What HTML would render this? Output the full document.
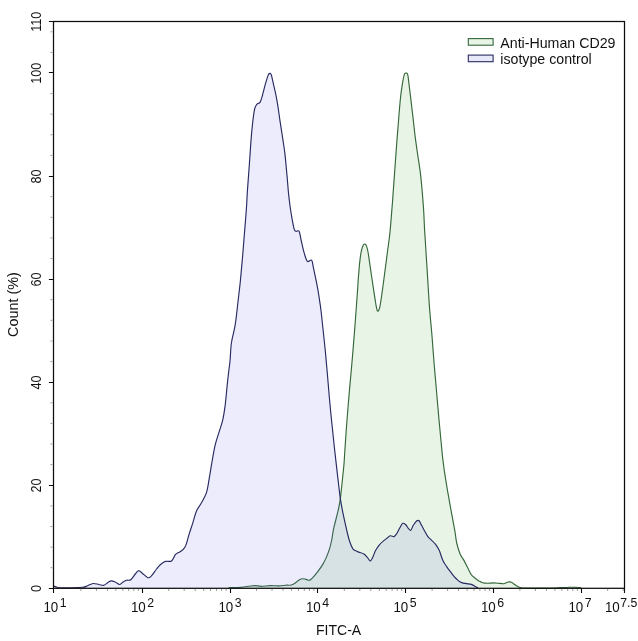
<!DOCTYPE html>
<html lang="en"><head><meta charset="utf-8"><title>FITC-A histogram</title>
<style>html,body{margin:0;padding:0;background:#fff;}body{width:638px;height:641px;overflow:hidden;}svg{display:block;}</style>
</head><body>
<svg width="638" height="641" viewBox="0 0 638 641">
<rect width="638" height="641" fill="#ffffff"/>
<path d="M228.5,587.8C230.3,587.7 236.2,587.6 239.5,587.4C242.8,587.1 245.7,586.6 248.3,586.3C250.9,586.0 252.7,585.6 254.9,585.6C257.1,585.6 258.8,586.3 261.4,586.3C263.9,586.3 267.3,585.7 270.2,585.6C273.1,585.5 276.4,586.0 279.0,585.9C281.6,585.8 283.6,585.4 285.6,585.2C287.6,585.1 289.5,585.4 291.1,585.0C292.8,584.6 294.2,583.6 295.5,582.8C296.8,582.0 297.6,580.9 298.7,580.2C299.8,579.5 300.9,579.0 302.0,578.8C303.1,578.6 304.2,578.9 305.3,579.1C306.4,579.3 307.7,580.1 308.6,580.2C309.5,580.3 309.9,580.2 310.8,579.5C311.7,578.8 312.8,577.7 314.1,576.2C315.4,574.7 317.0,572.7 318.5,570.7C320.0,568.7 321.6,566.3 322.9,564.1C324.2,561.9 325.1,560.2 326.2,557.6C327.3,555.0 328.6,551.7 329.5,548.8C330.4,545.9 331.0,543.5 331.7,540.0C332.4,536.5 332.8,532.3 333.8,527.8C334.8,523.2 336.6,517.3 337.6,512.7C338.7,508.1 339.4,505.2 340.1,500.2C340.9,495.2 341.5,488.5 342.1,482.6C342.7,476.8 343.4,470.5 343.9,465.1C344.4,459.7 344.4,456.9 344.9,450.0C345.4,443.1 345.9,434.2 346.7,424.0C347.5,413.8 348.6,399.9 349.6,388.6C350.6,377.3 351.6,367.1 352.5,356.3C353.4,345.5 354.3,334.2 355.1,324.0C355.9,313.8 356.6,303.7 357.2,295.3C357.8,286.9 358.1,280.4 358.7,273.8C359.2,267.2 359.8,260.6 360.5,255.9C361.2,251.2 362.1,247.7 363.0,245.8C363.9,243.9 364.8,243.6 365.6,244.4C366.4,245.2 366.9,246.8 367.7,250.5C368.5,254.2 369.3,260.6 370.2,266.6C371.1,272.6 372.2,280.4 373.1,286.4C374.0,292.4 374.9,298.4 375.6,302.5C376.3,306.6 376.7,309.9 377.4,310.8C378.1,311.7 378.9,310.5 379.6,307.9C380.3,305.3 380.9,301.0 381.7,295.3C382.5,289.6 383.7,281.0 384.6,273.8C385.6,266.6 386.5,259.3 387.4,252.3C388.3,245.3 389.2,240.2 390.0,232.0C390.8,223.8 391.6,212.8 392.4,203.2C393.1,193.5 393.8,183.8 394.5,174.1C395.2,164.4 395.9,153.8 396.6,144.9C397.3,136.1 397.9,128.5 398.5,121.0C399.1,113.5 399.7,106.0 400.3,99.8C400.9,93.6 401.7,88.1 402.4,83.9C403.1,79.7 403.7,76.4 404.3,74.6C404.9,72.8 405.3,73.2 405.9,73.2C406.5,73.2 407.1,72.4 407.7,74.6C408.3,76.8 408.7,81.9 409.3,86.5C409.9,91.1 410.6,97.1 411.2,102.4C411.8,107.7 412.4,112.7 413.1,118.4C413.8,124.2 414.4,130.7 415.2,136.9C416.0,143.1 416.9,149.3 417.8,155.5C418.7,161.7 419.8,167.9 420.5,174.1C421.2,180.3 421.8,186.4 422.3,192.6C422.8,198.8 423.3,205.0 423.7,211.2C424.1,217.4 424.2,223.8 424.6,230.0C425.0,236.2 425.3,240.8 425.8,248.7C426.3,256.6 427.0,267.8 427.6,277.4C428.2,287.0 428.7,296.5 429.4,306.1C430.1,315.7 431.1,325.2 431.9,334.8C432.7,344.4 433.3,353.9 434.1,363.5C434.9,373.1 435.8,382.6 436.6,392.2C437.4,401.8 438.3,412.1 439.1,420.9C439.9,429.7 440.8,438.5 441.4,445.0C442.0,451.5 442.2,454.6 442.9,460.0C443.6,465.4 444.3,470.9 445.4,477.6C446.4,484.3 447.9,493.1 449.2,500.2C450.4,507.3 451.9,514.8 452.9,520.3C453.9,525.8 454.6,529.3 455.2,533.0C455.8,536.7 455.8,539.0 456.6,542.5C457.4,546.0 458.8,550.9 460.0,553.8C461.2,556.7 462.5,557.8 463.8,560.1C465.1,562.4 466.4,565.2 467.6,567.6C468.9,570.0 470.1,572.8 471.3,574.6C472.6,576.4 473.9,577.2 475.1,578.2C476.4,579.2 477.6,580.1 478.8,580.9C480.1,581.6 481.1,582.3 482.6,582.7C484.1,583.1 485.7,583.2 487.6,583.2C489.5,583.2 491.8,582.9 493.9,582.9C496.0,582.9 498.5,583.3 500.2,583.4C501.9,583.5 502.7,583.9 503.9,583.7C505.1,583.5 506.1,582.5 507.2,582.2C508.2,581.9 509.2,581.7 510.2,581.9C511.2,582.1 512.2,582.8 513.2,583.4C514.2,584.0 515.3,585.0 516.5,585.7C517.7,586.4 518.8,587.1 520.2,587.5C521.7,587.9 520.2,587.9 525.2,588.0C530.2,588.1 544.4,588.1 550.3,588.0C556.1,587.9 557.4,587.7 560.3,587.6C563.2,587.5 565.4,587.3 567.9,587.3C570.4,587.2 573.1,587.2 575.4,587.3C577.6,587.4 580.4,587.6 581.4,587.7L581.4,588.0 L228.5,588.0 Z" fill="#e8f4e6" stroke="none"/>
<path d="M228.5,587.8C230.3,587.7 236.2,587.6 239.5,587.4C242.8,587.1 245.7,586.6 248.3,586.3C250.9,586.0 252.7,585.6 254.9,585.6C257.1,585.6 258.8,586.3 261.4,586.3C263.9,586.3 267.3,585.7 270.2,585.6C273.1,585.5 276.4,586.0 279.0,585.9C281.6,585.8 283.6,585.4 285.6,585.2C287.6,585.1 289.5,585.4 291.1,585.0C292.8,584.6 294.2,583.6 295.5,582.8C296.8,582.0 297.6,580.9 298.7,580.2C299.8,579.5 300.9,579.0 302.0,578.8C303.1,578.6 304.2,578.9 305.3,579.1C306.4,579.3 307.7,580.1 308.6,580.2C309.5,580.3 309.9,580.2 310.8,579.5C311.7,578.8 312.8,577.7 314.1,576.2C315.4,574.7 317.0,572.7 318.5,570.7C320.0,568.7 321.6,566.3 322.9,564.1C324.2,561.9 325.1,560.2 326.2,557.6C327.3,555.0 328.6,551.7 329.5,548.8C330.4,545.9 331.0,543.5 331.7,540.0C332.4,536.5 332.8,532.3 333.8,527.8C334.8,523.2 336.6,517.3 337.6,512.7C338.7,508.1 339.4,505.2 340.1,500.2C340.9,495.2 341.5,488.5 342.1,482.6C342.7,476.8 343.4,470.5 343.9,465.1C344.4,459.7 344.4,456.9 344.9,450.0C345.4,443.1 345.9,434.2 346.7,424.0C347.5,413.8 348.6,399.9 349.6,388.6C350.6,377.3 351.6,367.1 352.5,356.3C353.4,345.5 354.3,334.2 355.1,324.0C355.9,313.8 356.6,303.7 357.2,295.3C357.8,286.9 358.1,280.4 358.7,273.8C359.2,267.2 359.8,260.6 360.5,255.9C361.2,251.2 362.1,247.7 363.0,245.8C363.9,243.9 364.8,243.6 365.6,244.4C366.4,245.2 366.9,246.8 367.7,250.5C368.5,254.2 369.3,260.6 370.2,266.6C371.1,272.6 372.2,280.4 373.1,286.4C374.0,292.4 374.9,298.4 375.6,302.5C376.3,306.6 376.7,309.9 377.4,310.8C378.1,311.7 378.9,310.5 379.6,307.9C380.3,305.3 380.9,301.0 381.7,295.3C382.5,289.6 383.7,281.0 384.6,273.8C385.6,266.6 386.5,259.3 387.4,252.3C388.3,245.3 389.2,240.2 390.0,232.0C390.8,223.8 391.6,212.8 392.4,203.2C393.1,193.5 393.8,183.8 394.5,174.1C395.2,164.4 395.9,153.8 396.6,144.9C397.3,136.1 397.9,128.5 398.5,121.0C399.1,113.5 399.7,106.0 400.3,99.8C400.9,93.6 401.7,88.1 402.4,83.9C403.1,79.7 403.7,76.4 404.3,74.6C404.9,72.8 405.3,73.2 405.9,73.2C406.5,73.2 407.1,72.4 407.7,74.6C408.3,76.8 408.7,81.9 409.3,86.5C409.9,91.1 410.6,97.1 411.2,102.4C411.8,107.7 412.4,112.7 413.1,118.4C413.8,124.2 414.4,130.7 415.2,136.9C416.0,143.1 416.9,149.3 417.8,155.5C418.7,161.7 419.8,167.9 420.5,174.1C421.2,180.3 421.8,186.4 422.3,192.6C422.8,198.8 423.3,205.0 423.7,211.2C424.1,217.4 424.2,223.8 424.6,230.0C425.0,236.2 425.3,240.8 425.8,248.7C426.3,256.6 427.0,267.8 427.6,277.4C428.2,287.0 428.7,296.5 429.4,306.1C430.1,315.7 431.1,325.2 431.9,334.8C432.7,344.4 433.3,353.9 434.1,363.5C434.9,373.1 435.8,382.6 436.6,392.2C437.4,401.8 438.3,412.1 439.1,420.9C439.9,429.7 440.8,438.5 441.4,445.0C442.0,451.5 442.2,454.6 442.9,460.0C443.6,465.4 444.3,470.9 445.4,477.6C446.4,484.3 447.9,493.1 449.2,500.2C450.4,507.3 451.9,514.8 452.9,520.3C453.9,525.8 454.6,529.3 455.2,533.0C455.8,536.7 455.8,539.0 456.6,542.5C457.4,546.0 458.8,550.9 460.0,553.8C461.2,556.7 462.5,557.8 463.8,560.1C465.1,562.4 466.4,565.2 467.6,567.6C468.9,570.0 470.1,572.8 471.3,574.6C472.6,576.4 473.9,577.2 475.1,578.2C476.4,579.2 477.6,580.1 478.8,580.9C480.1,581.6 481.1,582.3 482.6,582.7C484.1,583.1 485.7,583.2 487.6,583.2C489.5,583.2 491.8,582.9 493.9,582.9C496.0,582.9 498.5,583.3 500.2,583.4C501.9,583.5 502.7,583.9 503.9,583.7C505.1,583.5 506.1,582.5 507.2,582.2C508.2,581.9 509.2,581.7 510.2,581.9C511.2,582.1 512.2,582.8 513.2,583.4C514.2,584.0 515.3,585.0 516.5,585.7C517.7,586.4 518.8,587.1 520.2,587.5C521.7,587.9 520.2,587.9 525.2,588.0C530.2,588.1 544.4,588.1 550.3,588.0C556.1,587.9 557.4,587.7 560.3,587.6C563.2,587.5 565.4,587.3 567.9,587.3C570.4,587.2 573.1,587.2 575.4,587.3C577.6,587.4 580.4,587.6 581.4,587.7" fill="none" stroke="#34683a" stroke-width="1.15" stroke-linejoin="round"/>
<path d="M53.6,586.0C54.2,586.2 55.9,587.0 57.0,587.3C58.1,587.6 57.8,587.7 60.0,587.8C62.2,587.9 66.2,587.9 70.0,587.8C73.8,587.7 79.7,587.6 82.6,587.3C85.5,587.0 85.8,586.4 87.6,585.8C89.3,585.2 91.2,583.7 93.1,583.5C95.0,583.3 97.1,584.2 98.9,584.5C100.7,584.8 102.4,585.7 103.9,585.3C105.5,584.9 107.0,583.0 108.2,582.3C109.5,581.5 110.2,580.8 111.4,580.8C112.7,580.8 114.4,581.7 115.7,582.3C117.0,582.9 118.3,584.5 119.5,584.5C120.7,584.5 121.5,583.0 122.7,582.3C123.9,581.6 125.2,580.7 126.5,580.3C127.8,579.9 129.3,580.8 130.8,579.7C132.3,578.7 134.0,575.5 135.3,574.0C136.6,572.5 137.3,570.8 138.5,570.7C139.7,570.6 140.8,572.0 142.3,573.2C143.9,574.4 146.2,577.3 147.8,577.7C149.4,578.1 150.1,577.2 151.6,575.7C153.1,574.2 155.1,570.8 156.6,569.0C158.1,567.2 158.8,566.0 160.3,564.7C161.8,563.4 163.5,562.0 165.4,561.4C167.3,560.8 169.9,562.0 171.6,560.9C173.3,559.8 174.1,556.2 175.4,554.7C176.7,553.2 177.9,553.0 179.2,552.2C180.4,551.4 181.8,550.9 182.9,549.7C184.0,548.5 184.9,547.7 185.9,545.1C186.9,542.5 188.0,537.6 189.2,533.9C190.4,530.1 191.7,526.4 192.9,522.6C194.1,518.8 195.1,514.3 196.5,511.0C197.9,507.7 199.7,506.0 201.3,503.0C203.0,500.0 205.1,496.7 206.4,492.9C207.7,489.1 208.1,485.0 208.9,480.4C209.7,475.8 210.4,471.1 211.4,465.3C212.4,459.5 213.8,450.7 215.1,445.3C216.3,439.9 217.6,436.9 218.9,432.7C220.2,428.5 221.6,424.8 222.7,420.2C223.8,415.6 224.4,411.0 225.2,405.1C225.9,399.2 226.6,391.0 227.2,385.1C227.8,379.2 228.4,374.2 228.9,370.0C229.4,365.8 229.7,364.5 230.1,360.0C230.5,355.5 230.6,348.8 231.4,343.0C232.2,337.2 234.1,331.7 235.1,325.4C236.1,319.1 236.8,312.4 237.6,305.3C238.4,298.2 239.3,291.2 240.2,282.8C241.0,274.4 241.9,264.0 242.7,255.2C243.4,246.4 244.1,237.6 244.7,230.1C245.3,222.6 245.9,216.5 246.3,210.0C246.8,203.5 246.9,198.4 247.4,191.0C247.9,183.6 248.7,173.5 249.3,165.3C249.9,157.1 250.4,148.9 250.9,141.9C251.4,134.9 252.0,128.7 252.6,123.2C253.2,117.7 253.9,112.3 254.6,109.1C255.3,105.9 256.1,105.3 257.0,104.2C257.9,103.1 259.1,103.6 260.0,102.3C260.9,101.0 261.5,98.7 262.2,96.3C262.9,93.9 263.6,90.8 264.3,88.1C265.0,85.4 265.9,82.2 266.6,79.9C267.3,77.6 267.9,75.6 268.5,74.5C269.1,73.4 269.6,73.3 270.1,73.4C270.6,73.5 270.9,73.5 271.4,75.2C271.9,76.9 272.6,80.3 273.3,83.4C274.0,86.5 274.9,90.0 275.7,93.9C276.5,97.8 277.3,102.3 278.0,106.8C278.7,111.3 279.2,115.7 280.0,120.8C280.8,125.9 281.7,131.7 282.5,137.2C283.3,142.7 284.2,147.8 284.9,153.6C285.6,159.4 286.1,166.1 286.7,172.3C287.3,178.5 287.9,186.2 288.3,191.0C288.8,195.8 288.9,197.0 289.4,201.0C289.9,205.0 290.6,210.4 291.4,215.0C292.2,219.6 293.3,226.1 294.1,228.8C294.9,231.5 295.3,230.9 296.1,231.3C296.9,231.7 298.3,229.8 299.1,231.3C299.9,232.8 300.3,236.5 301.1,240.1C301.9,243.7 303.1,249.1 304.1,252.7C305.2,256.2 306.1,260.1 307.4,261.4C308.6,262.6 310.6,259.1 311.6,260.2C312.6,261.2 312.6,263.9 313.4,267.7C314.2,271.5 315.7,278.4 316.6,282.8C317.5,287.2 317.9,289.4 318.6,294.0C319.3,298.6 320.3,304.7 321.0,310.5C321.7,316.3 322.3,322.2 323.0,329.0C323.7,335.8 324.6,343.7 325.3,351.0C326.0,358.3 326.6,365.3 327.3,373.0C328.0,380.7 328.6,389.5 329.3,397.0C330.0,404.5 330.6,411.0 331.3,418.0C332.0,425.0 332.8,432.0 333.5,439.0C334.2,446.0 335.0,453.2 335.8,460.1C336.6,467.0 337.3,473.4 338.1,480.1C338.9,486.8 339.6,493.9 340.6,500.2C341.6,506.5 342.7,512.1 343.9,517.7C345.1,523.3 346.6,529.8 347.6,534.0C348.6,538.2 349.2,540.3 350.1,542.8C351.0,545.3 351.9,547.6 353.1,549.1C354.4,550.6 355.8,550.8 357.6,551.6C359.4,552.4 362.2,553.1 363.9,554.1C365.6,555.1 366.6,556.8 367.7,557.9C368.8,559.0 369.4,561.0 370.2,560.9C371.0,560.8 371.8,559.2 372.7,557.4C373.6,555.6 374.6,552.3 375.7,550.3C376.8,548.3 377.8,546.8 379.0,545.3C380.2,543.8 381.4,542.7 382.7,541.6C383.9,540.5 385.2,539.6 386.5,538.6C387.8,537.6 389.1,536.1 390.3,535.8C391.6,535.5 393.0,536.9 394.0,536.6C395.0,536.3 395.5,535.5 396.5,534.0C397.5,532.5 398.8,529.6 399.8,527.8C400.9,526.0 401.8,523.8 402.8,523.3C403.8,522.8 404.9,524.0 405.8,524.8C406.7,525.6 407.5,527.4 408.3,528.3C409.1,529.2 410.0,530.8 410.8,530.3C411.6,529.8 412.3,526.8 413.3,525.3C414.3,523.8 415.6,521.8 416.6,521.0C417.6,520.2 418.3,520.1 419.1,520.8C419.9,521.5 420.6,523.5 421.6,525.3C422.6,527.1 423.8,529.6 424.9,531.5C425.9,533.4 426.8,535.1 427.9,536.6C429.0,538.1 430.4,539.0 431.6,540.3C432.9,541.5 434.1,542.4 435.4,544.1C436.7,545.8 437.9,547.6 439.2,550.3C440.4,553.0 441.6,557.7 442.9,560.4C444.1,563.1 445.4,564.7 446.7,566.6C447.9,568.5 449.1,570.0 450.4,571.7C451.6,573.4 452.9,575.2 454.2,576.7C455.5,578.2 456.8,579.4 458.0,580.4C459.2,581.4 460.3,582.1 461.7,582.6C463.1,583.1 464.7,583.3 466.3,583.6C467.9,583.9 469.8,583.9 471.3,584.4C472.8,584.9 474.0,585.8 475.1,586.4C476.2,587.0 477.6,587.7 478.1,588.0L478.1,588.0 L53.6,588.0 Z" fill="#5a5ae1" fill-opacity="0.115" stroke="none"/>
<path d="M53.6,586.0C54.2,586.2 55.9,587.0 57.0,587.3C58.1,587.6 57.8,587.7 60.0,587.8C62.2,587.9 66.2,587.9 70.0,587.8C73.8,587.7 79.7,587.6 82.6,587.3C85.5,587.0 85.8,586.4 87.6,585.8C89.3,585.2 91.2,583.7 93.1,583.5C95.0,583.3 97.1,584.2 98.9,584.5C100.7,584.8 102.4,585.7 103.9,585.3C105.5,584.9 107.0,583.0 108.2,582.3C109.5,581.5 110.2,580.8 111.4,580.8C112.7,580.8 114.4,581.7 115.7,582.3C117.0,582.9 118.3,584.5 119.5,584.5C120.7,584.5 121.5,583.0 122.7,582.3C123.9,581.6 125.2,580.7 126.5,580.3C127.8,579.9 129.3,580.8 130.8,579.7C132.3,578.7 134.0,575.5 135.3,574.0C136.6,572.5 137.3,570.8 138.5,570.7C139.7,570.6 140.8,572.0 142.3,573.2C143.9,574.4 146.2,577.3 147.8,577.7C149.4,578.1 150.1,577.2 151.6,575.7C153.1,574.2 155.1,570.8 156.6,569.0C158.1,567.2 158.8,566.0 160.3,564.7C161.8,563.4 163.5,562.0 165.4,561.4C167.3,560.8 169.9,562.0 171.6,560.9C173.3,559.8 174.1,556.2 175.4,554.7C176.7,553.2 177.9,553.0 179.2,552.2C180.4,551.4 181.8,550.9 182.9,549.7C184.0,548.5 184.9,547.7 185.9,545.1C186.9,542.5 188.0,537.6 189.2,533.9C190.4,530.1 191.7,526.4 192.9,522.6C194.1,518.8 195.1,514.3 196.5,511.0C197.9,507.7 199.7,506.0 201.3,503.0C203.0,500.0 205.1,496.7 206.4,492.9C207.7,489.1 208.1,485.0 208.9,480.4C209.7,475.8 210.4,471.1 211.4,465.3C212.4,459.5 213.8,450.7 215.1,445.3C216.3,439.9 217.6,436.9 218.9,432.7C220.2,428.5 221.6,424.8 222.7,420.2C223.8,415.6 224.4,411.0 225.2,405.1C225.9,399.2 226.6,391.0 227.2,385.1C227.8,379.2 228.4,374.2 228.9,370.0C229.4,365.8 229.7,364.5 230.1,360.0C230.5,355.5 230.6,348.8 231.4,343.0C232.2,337.2 234.1,331.7 235.1,325.4C236.1,319.1 236.8,312.4 237.6,305.3C238.4,298.2 239.3,291.2 240.2,282.8C241.0,274.4 241.9,264.0 242.7,255.2C243.4,246.4 244.1,237.6 244.7,230.1C245.3,222.6 245.9,216.5 246.3,210.0C246.8,203.5 246.9,198.4 247.4,191.0C247.9,183.6 248.7,173.5 249.3,165.3C249.9,157.1 250.4,148.9 250.9,141.9C251.4,134.9 252.0,128.7 252.6,123.2C253.2,117.7 253.9,112.3 254.6,109.1C255.3,105.9 256.1,105.3 257.0,104.2C257.9,103.1 259.1,103.6 260.0,102.3C260.9,101.0 261.5,98.7 262.2,96.3C262.9,93.9 263.6,90.8 264.3,88.1C265.0,85.4 265.9,82.2 266.6,79.9C267.3,77.6 267.9,75.6 268.5,74.5C269.1,73.4 269.6,73.3 270.1,73.4C270.6,73.5 270.9,73.5 271.4,75.2C271.9,76.9 272.6,80.3 273.3,83.4C274.0,86.5 274.9,90.0 275.7,93.9C276.5,97.8 277.3,102.3 278.0,106.8C278.7,111.3 279.2,115.7 280.0,120.8C280.8,125.9 281.7,131.7 282.5,137.2C283.3,142.7 284.2,147.8 284.9,153.6C285.6,159.4 286.1,166.1 286.7,172.3C287.3,178.5 287.9,186.2 288.3,191.0C288.8,195.8 288.9,197.0 289.4,201.0C289.9,205.0 290.6,210.4 291.4,215.0C292.2,219.6 293.3,226.1 294.1,228.8C294.9,231.5 295.3,230.9 296.1,231.3C296.9,231.7 298.3,229.8 299.1,231.3C299.9,232.8 300.3,236.5 301.1,240.1C301.9,243.7 303.1,249.1 304.1,252.7C305.2,256.2 306.1,260.1 307.4,261.4C308.6,262.6 310.6,259.1 311.6,260.2C312.6,261.2 312.6,263.9 313.4,267.7C314.2,271.5 315.7,278.4 316.6,282.8C317.5,287.2 317.9,289.4 318.6,294.0C319.3,298.6 320.3,304.7 321.0,310.5C321.7,316.3 322.3,322.2 323.0,329.0C323.7,335.8 324.6,343.7 325.3,351.0C326.0,358.3 326.6,365.3 327.3,373.0C328.0,380.7 328.6,389.5 329.3,397.0C330.0,404.5 330.6,411.0 331.3,418.0C332.0,425.0 332.8,432.0 333.5,439.0C334.2,446.0 335.0,453.2 335.8,460.1C336.6,467.0 337.3,473.4 338.1,480.1C338.9,486.8 339.6,493.9 340.6,500.2C341.6,506.5 342.7,512.1 343.9,517.7C345.1,523.3 346.6,529.8 347.6,534.0C348.6,538.2 349.2,540.3 350.1,542.8C351.0,545.3 351.9,547.6 353.1,549.1C354.4,550.6 355.8,550.8 357.6,551.6C359.4,552.4 362.2,553.1 363.9,554.1C365.6,555.1 366.6,556.8 367.7,557.9C368.8,559.0 369.4,561.0 370.2,560.9C371.0,560.8 371.8,559.2 372.7,557.4C373.6,555.6 374.6,552.3 375.7,550.3C376.8,548.3 377.8,546.8 379.0,545.3C380.2,543.8 381.4,542.7 382.7,541.6C383.9,540.5 385.2,539.6 386.5,538.6C387.8,537.6 389.1,536.1 390.3,535.8C391.6,535.5 393.0,536.9 394.0,536.6C395.0,536.3 395.5,535.5 396.5,534.0C397.5,532.5 398.8,529.6 399.8,527.8C400.9,526.0 401.8,523.8 402.8,523.3C403.8,522.8 404.9,524.0 405.8,524.8C406.7,525.6 407.5,527.4 408.3,528.3C409.1,529.2 410.0,530.8 410.8,530.3C411.6,529.8 412.3,526.8 413.3,525.3C414.3,523.8 415.6,521.8 416.6,521.0C417.6,520.2 418.3,520.1 419.1,520.8C419.9,521.5 420.6,523.5 421.6,525.3C422.6,527.1 423.8,529.6 424.9,531.5C425.9,533.4 426.8,535.1 427.9,536.6C429.0,538.1 430.4,539.0 431.6,540.3C432.9,541.5 434.1,542.4 435.4,544.1C436.7,545.8 437.9,547.6 439.2,550.3C440.4,553.0 441.6,557.7 442.9,560.4C444.1,563.1 445.4,564.7 446.7,566.6C447.9,568.5 449.1,570.0 450.4,571.7C451.6,573.4 452.9,575.2 454.2,576.7C455.5,578.2 456.8,579.4 458.0,580.4C459.2,581.4 460.3,582.1 461.7,582.6C463.1,583.1 464.7,583.3 466.3,583.6C467.9,583.9 469.8,583.9 471.3,584.4C472.8,584.9 474.0,585.8 475.1,586.4C476.2,587.0 477.6,587.7 478.1,588.0" fill="none" stroke="#272a60" stroke-width="1.15" stroke-linejoin="round"/>
<rect x="53.5" y="21.5" width="571.0" height="566.8" fill="none" stroke="#0c0c0c" stroke-width="1.25"/>
<path d="M53.5,588.5h-4.6M53.5,485.5h-4.6M53.5,382.5h-4.6M53.5,279.5h-4.6M53.5,176.5h-4.6M53.5,72.5h-4.6M53.5,21.5h-4.6M53.5,588.3v4.8M142.5,588.3v4.8M230.5,588.3v4.8M317.5,588.3v4.8M405.5,588.3v4.8M493.5,588.3v4.8M581.5,588.3v4.8M624.5,588.3v4.8" stroke="#0c0c0c" stroke-width="1.1" fill="none"/>
<path d="M80.9,588.9v2.0M96.4,588.9v2.0M107.4,588.9v2.0M115.9,588.9v2.0M122.8,588.9v2.0M128.7,588.9v2.0M133.8,588.9v2.0M138.3,588.9v2.0M168.7,588.9v2.0M184.2,588.9v2.0M195.2,588.9v2.0M203.7,588.9v2.0M210.6,588.9v2.0M216.5,588.9v2.0M221.6,588.9v2.0M226.1,588.9v2.0M256.5,588.9v2.0M272.0,588.9v2.0M283.0,588.9v2.0M291.5,588.9v2.0M298.4,588.9v2.0M304.3,588.9v2.0M309.4,588.9v2.0M313.9,588.9v2.0M344.3,588.9v2.0M359.8,588.9v2.0M370.8,588.9v2.0M379.3,588.9v2.0M386.2,588.9v2.0M392.1,588.9v2.0M397.2,588.9v2.0M401.7,588.9v2.0M432.1,588.9v2.0M447.6,588.9v2.0M458.6,588.9v2.0M467.1,588.9v2.0M474.0,588.9v2.0M479.9,588.9v2.0M485.0,588.9v2.0M489.5,588.9v2.0M519.9,588.9v2.0M535.4,588.9v2.0M546.4,588.9v2.0M554.9,588.9v2.0M561.8,588.9v2.0M567.7,588.9v2.0M572.8,588.9v2.0M577.3,588.9v2.0M607.7,588.9v2.0M623.2,588.9v2.0M52.3,567.7h-1.8M52.3,547.1h-1.8M52.3,526.5h-1.8M52.3,505.9h-1.8M52.3,464.6h-1.8M52.3,444.0h-1.8M52.3,423.4h-1.8M52.3,402.8h-1.8M52.3,361.6h-1.8M52.3,341.0h-1.8M52.3,320.3h-1.8M52.3,299.7h-1.8M52.3,258.5h-1.8M52.3,237.9h-1.8M52.3,217.3h-1.8M52.3,196.7h-1.8M52.3,155.4h-1.8M52.3,134.8h-1.8M52.3,114.2h-1.8M52.3,93.6h-1.8M52.3,52.4h-1.8M52.3,31.8h-1.8" stroke="#8a8a8a" stroke-width="0.9" fill="none"/>
<g font-family="'Liberation Sans', Arial, sans-serif" fill="#111">
<text font-size="14" text-anchor="middle" transform="translate(41.3,588.6) rotate(-90) scale(0.9,1)">0</text>
<text font-size="14" text-anchor="middle" transform="translate(41.3,485.5) rotate(-90) scale(0.9,1)">20</text>
<text font-size="14" text-anchor="middle" transform="translate(41.3,382.5) rotate(-90) scale(0.9,1)">40</text>
<text font-size="14" text-anchor="middle" transform="translate(41.3,279.4) rotate(-90) scale(0.9,1)">60</text>
<text font-size="14" text-anchor="middle" transform="translate(41.3,176.4) rotate(-90) scale(0.9,1)">80</text>
<text font-size="14" text-anchor="middle" transform="translate(41.3,73.3) rotate(-90) scale(0.9,1)">100</text>
<text font-size="14" text-anchor="middle" transform="translate(41.3,21.8) rotate(-90) scale(0.9,1)">110</text>
<text font-size="14.2" transform="translate(43.4,612) scale(0.94,1)">10</text>
<text font-size="12.3" x="59.7" y="607">1</text>
<text font-size="14.2" transform="translate(130.9,612) scale(0.94,1)">10</text>
<text font-size="12.3" x="147.2" y="607">2</text>
<text font-size="14.2" transform="translate(218.4,612) scale(0.94,1)">10</text>
<text font-size="12.3" x="234.7" y="607">3</text>
<text font-size="14.2" transform="translate(305.9,612) scale(0.94,1)">10</text>
<text font-size="12.3" x="322.2" y="607">4</text>
<text font-size="14.2" transform="translate(393.4,612) scale(0.94,1)">10</text>
<text font-size="12.3" x="409.7" y="607">5</text>
<text font-size="14.2" transform="translate(480.9,612) scale(0.94,1)">10</text>
<text font-size="12.3" x="497.2" y="607">6</text>
<text font-size="14.2" transform="translate(568.4,612) scale(0.94,1)">10</text>
<text font-size="12.3" x="584.7" y="607">7</text>
<text font-size="14.2" transform="translate(604.9,612) scale(0.94,1)">10</text>
<text font-size="12.3" x="620.2" y="607">7.5</text>
<text font-size="14" x="338.6" y="634.6" text-anchor="middle">FITC-A</text>
<text font-size="14.4" text-anchor="middle" transform="translate(18.4,304.5) rotate(-90)">Count (%)</text>
<text font-size="14.2" x="500.3" y="47.8">Anti-Human CD29</text>
<text font-size="14.2" x="500.3" y="64.2">isotype control</text>
</g>
<rect x="468.3" y="38.6" width="24.8" height="6.6" fill="#e8f4e6" stroke="#34683a" stroke-width="1.1"/>
<rect x="468.3" y="55.1" width="24.8" height="6.6" fill="#e8e8fb" stroke="#272a60" stroke-width="1.1"/>
</svg>
</body></html>
